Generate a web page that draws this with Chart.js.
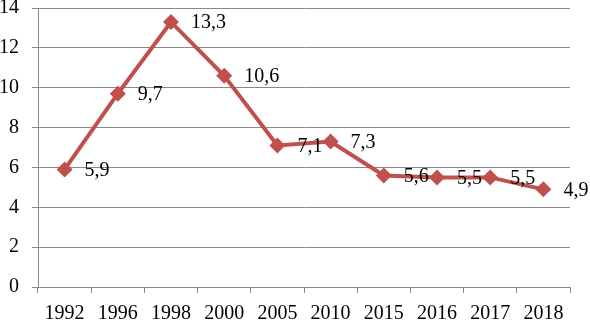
<!DOCTYPE html>
<html lang="ru">
<head>
<meta charset="UTF-8">
<title>Chart</title>
<style>
  html, body { margin: 0; padding: 0; background: #fff; }
  #wrap { width: 590px; height: 320px; }
</style>
</head>
<body>
<div id="wrap"><canvas id="myChart" width="590" height="320"></canvas></div>
<script src="https://cdn.jsdelivr.net/npm/chart.js"></script>
<script>
  const years = ['1992', '1996', '1998', '2000', '2005', '2010', '2015', '2016', '2017', '2018'];
  const values = [5.9, 9.7, 13.3, 10.6, 7.1, 7.3, 5.6, 5.5, 5.5, 4.9];
  const yTicks = [0, 2, 4, 6, 8, 10, 12, 14];

  const serif = '"Liberation Serif", "Times New Roman", serif';

  // value labels to the right of each point, comma as decimal sign
  const valueLabels = {
    id: 'valueLabels',
    afterDatasetsDraw(chart) {
      const ctx = chart.ctx;
      const meta = chart.getDatasetMeta(0);
      ctx.save();
      ctx.font = '20px ' + serif;
      ctx.fillStyle = '#000';
      ctx.textBaseline = 'middle';
      ctx.textAlign = 'left';
      meta.data.forEach((pt, i) => {
        ctx.fillText(String(values[i]).replace('.', ','), pt.x + 20, pt.y + 1);
      });
      ctx.restore();
    }
  };

  new Chart(document.getElementById('myChart'), {
    type: 'line',
    data: {
      labels: years,
      datasets: [{
        data: values,
        borderColor: '#C0504D',
        backgroundColor: '#C0504D',
        borderWidth: 4,
        pointStyle: 'rectRot',
        pointRadius: 8,
        pointBorderWidth: 0,
        tension: 0
      }]
    },
    options: {
      responsive: false,
      animation: false,
      layout: { padding: { top: 7, right: 20, left: 0, bottom: 0 } },
      plugins: { legend: { display: false }, tooltip: { enabled: false } },
      scales: {
        x: {
          offset: true,
          grid: { offset: true, drawOnChartArea: false, drawTicks: true, tickLength: 6, color: '#888' },
          border: { color: '#888' },
          ticks: { color: '#000', font: { family: serif, size: 20 }, padding: 9, maxRotation: 0, autoSkip: false },
          afterFit(scale) { scale.height = 33; scale.paddingTop = 0; }
        },
        y: {
          min: 0,
          max: 14,
          afterBuildTicks(scale) { scale.ticks = yTicks.map(v => ({ value: v })); },
          grid: { color: '#888', tickLength: 6 },
          border: { color: '#888' },
          ticks: { color: '#000', font: { family: serif, size: 20 }, padding: 13 },
          afterFit(scale) { scale.width = 38; scale.paddingTop = 0; scale.paddingBottom = 0; }
        }
      }
    },
    plugins: [valueLabels]
  });
</script>
</body>
</html>
